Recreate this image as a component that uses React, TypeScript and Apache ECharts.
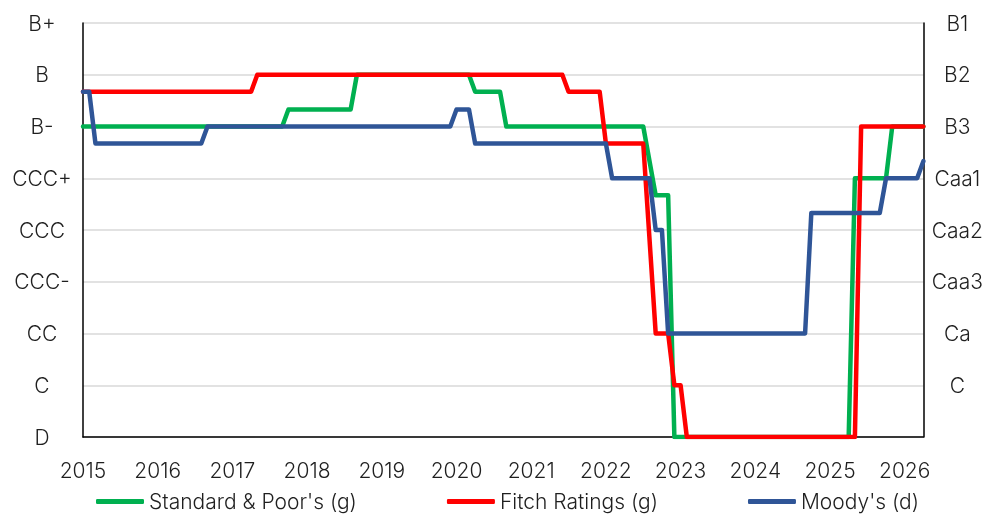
import React, { useEffect, useRef } from "react";
import * as echarts from "echarts";

const leftLabels = ["D", "C", "CC", "CCC-", "CCC", "CCC+", "B-", "B", "B+"];
const rightLabels = ["", "C", "Ca", "Caa3", "Caa2", "Caa1", "B3", "B2", "B1"];
const startYear = 2015;
const endMonth = "2026-04";
const seriesNames = ["Standard & Poor's (g)", "Fitch Ratings (g)", "Moody's (d)"];
const seriesColors = ["#00B050", "#FF0000", "#2F5597"];

// [month, rating score] at the points where each rating changes
const spData: [string, number][] = [
  ["2015-01", 6], ["2017-09", 6], ["2017-10", 6.33], ["2018-08", 6.33], ["2018-09", 7],
  ["2020-03", 7], ["2020-04", 6.67], ["2020-08", 6.67], ["2020-09", 6], ["2022-07", 6],
  ["2022-09", 4.67], ["2022-11", 4.67], ["2022-12", 0], ["2025-04", 0], ["2025-05", 5],
  ["2025-10", 5], ["2025-11", 6], ["2026-04", 6],
];
const fitchData: [string, number][] = [
  ["2015-01", 6.67], ["2017-04", 6.67], ["2017-05", 7], ["2021-06", 7], ["2021-07", 6.67],
  ["2021-12", 6.67], ["2022-01", 5.67], ["2022-07", 5.67], ["2022-09", 2], ["2022-11", 2],
  ["2022-12", 1], ["2023-01", 1], ["2023-02", 0], ["2025-05", 0], ["2025-06", 6],
  ["2026-04", 6],
];
const moodysData: [string, number][] = [
  ["2015-01", 6.67], ["2015-02", 6.67], ["2015-03", 5.67], ["2016-08", 5.67], ["2016-09", 6],
  ["2019-12", 6], ["2020-01", 6.33], ["2020-03", 6.33], ["2020-04", 5.67], ["2022-01", 5.67],
  ["2022-02", 5], ["2022-08", 5], ["2022-09", 4], ["2022-10", 4], ["2022-11", 2],
  ["2024-09", 2], ["2024-10", 4.33], ["2025-09", 4.33], ["2025-10", 5], ["2026-03", 5],
  ["2026-04", 5.33],
];

const toIdx = (s: string) => {
  const [y, m] = s.split("-").map(Number);
  return (y - startYear) * 12 + (m - 1);
};

const FONT = "Inter";
const TEXT = "#1f1f1f";
const FS = 21;
const FW = 300;

export default function App() {
  const ref = useRef<HTMLDivElement>(null);
  useEffect(() => {
    if (!ref.current) return;
    const chart = echarts.init(ref.current, undefined, { renderer: "svg" });
    const all = [spData, fitchData, moodysData];
    chart.setOption({
      animation: false,
      textStyle: { fontFamily: FONT },
      grid: { left: 83, right: 61, top: 23, bottom: 79, containLabel: false },
      legend: {
        left: 96,
        top: 491,
        padding: 0,
        itemWidth: 48,
        itemHeight: 5,
        itemGap: 90,
        icon: "roundRect",
        textStyle: { fontFamily: FONT, fontSize: FS, fontWeight: FW, color: TEXT },
        data: seriesNames,
      },
      xAxis: {
        type: "value",
        min: 0,
        max: toIdx(endMonth),
        interval: 12,
        axisLine: { show: true, lineStyle: { color: "#000", width: 1.5 } },
        axisTick: { show: false },
        splitLine: { show: false },
        axisLabel: {
          margin: 23,
          fontSize: FS,
          fontWeight: FW,
          color: TEXT,
          fontFamily: FONT,
          formatter: (v: number) => (v % 12 === 0 ? String(startYear + v / 12) : ""),
        },
      },
      yAxis: [
        {
          type: "value",
          min: 0,
          max: 8,
          interval: 1,
          position: "left",
          axisLine: { show: true, lineStyle: { color: "#000", width: 1.5 } },
          axisTick: { show: false },
          splitLine: { show: true, lineStyle: { color: "#d9d9d9", width: 1.5 } },
          axisLabel: {
            align: "center",
            margin: 41,
            fontSize: FS,
            fontWeight: FW,
            color: TEXT,
            fontFamily: FONT,
            formatter: (v: number) => leftLabels[Math.round(v)] ?? "",
          },
        },
        {
          type: "value",
          min: 0,
          max: 8,
          interval: 1,
          position: "right",
          axisLine: { show: true, lineStyle: { color: "#000", width: 1.5 } },
          axisTick: { show: false },
          splitLine: { show: false },
          axisLabel: {
            align: "center",
            margin: 34,
            fontSize: FS,
            fontWeight: FW,
            color: TEXT,
            fontFamily: FONT,
            formatter: (v: number) => rightLabels[Math.round(v)] ?? "",
          },
        },
      ],
      series: all.map((d, i) => ({
        name: seriesNames[i],
        type: "line",
        yAxisIndex: 0,
        showSymbol: false,
        symbol: "none",
        color: seriesColors[i],
        lineStyle: { width: 4.5, color: seriesColors[i], join: "round", cap: "round" },
        data: d.map(([m, v]) => [toIdx(m), v]),
      })),
    });
    return () => chart.dispose();
  }, []);
  return (
    <div
      ref={ref}
      style={{ position: "fixed", left: 0, top: 0, width: 986, height: 516 }}
    />
  );
}
